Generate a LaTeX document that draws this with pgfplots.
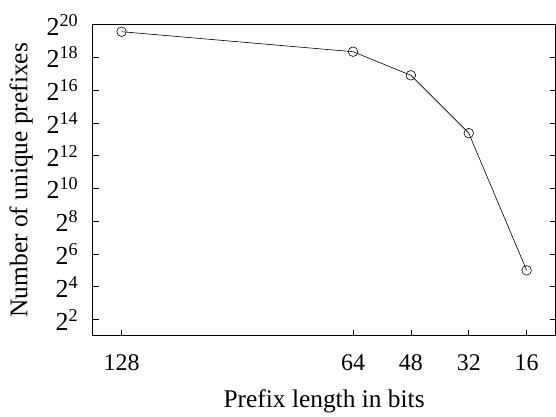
\documentclass[border=0pt]{standalone}
\usepackage{fontspec}
\setmainfont{Liberation Serif}
\usepackage{pgfplots}
\pgfplotsset{compat=1.18}

\begin{document}
\begin{tikzpicture}
\begin{axis}[
    scale only axis,
    width=463bp, height=311.5bp,
    x dir=reverse,
    xmin=8, xmax=136,
    ymode=log, log basis y=2,
    ymin=2, ymax=1048576,
    xtick={128,64,48,32,16},
    xtick pos=bottom,
    ytick={4,16,64,256,1024,4096,16384,65536,262144,1048576},
    yticklabels={2\textsuperscript{2},2\textsuperscript{4},2\textsuperscript{6},2\textsuperscript{8},2\textsuperscript{10},2\textsuperscript{12},2\textsuperscript{14},2\textsuperscript{16},2\textsuperscript{18},2\textsuperscript{20}},
    ytick pos=both,
    tick align=inside,
    minor tick num=0,
    major tick length=6bp,
    tick style={black, line width=0.6pt},
    axis line style={line width=0.9pt},
    xlabel={Prefix length in bits},
    ylabel={Number of unique prefixes},
    /pgf/number format/assume math mode=true,
    xticklabel style={font=\fontsize{24}{26}\selectfont, yshift=-15bp},
    yticklabel style={font=\fontsize{26}{28}\selectfont, xshift=-11bp},
    label style={font=\fontsize{25.5}{28}\selectfont},
    xlabel style={yshift=-12bp},
    ylabel style={yshift=7bp},
]
\addplot[black, line width=0.6pt, mark=o, mark size=4.8bp, mark options={solid, line width=0.6pt}] coordinates {
    (128,772900) (64,331800) (48,122300) (32,10588) (16,32)
};
\end{axis}
\path ([xshift=-92.7bp,yshift=-73bp]current axis.south west) rectangle ++(556bp,409bp);
\end{tikzpicture}
\end{document}
